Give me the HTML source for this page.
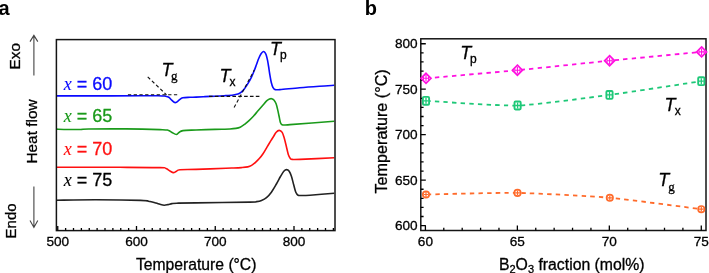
<!DOCTYPE html><html><head><meta charset="utf-8"><style>html,body{margin:0;padding:0;background:#fff;}svg{display:block;will-change:transform;color:#000;}svg{font-family:"Liberation Sans",sans-serif;}text{stroke:currentColor;stroke-width:0.3px;}</style></head><body>
<svg width="709" height="273" viewBox="0 0 709 273">
<rect width="709" height="273" fill="#fff"/>
<text x="-1.5" y="14.6" font-size="20" font-weight="bold" fill="#000" style="stroke:none">a</text>
<text x="364.7" y="14.6" font-size="20" font-weight="bold" fill="#000" style="stroke:none">b</text>
<g fill="#000" font-size="15">
<text transform="translate(19.6,69.5) rotate(-90)" font-size="15.4">Exo</text>
<text transform="translate(37.3,163.6) rotate(-90)" font-size="15.4">Heat flow</text>
<text transform="translate(15.7,238.4) rotate(-90)">Endo</text>
</g>
<g stroke="#444" stroke-width="1.1" fill="none">
<path d="M33.9,75.5 V35.6 M30,41.6 L33.9,35.4 L37.8,41.6"/>
<path d="M33.9,186.6 V227.2 M30,220.6 L33.9,227.4 L37.8,220.6"/>
</g>
<path d="M56.40,95.90 C63.67,95.90 86.07,95.92 100.00,95.90 C113.93,95.88 130.33,95.82 140.00,95.80 C149.67,95.78 154.17,95.77 158.00,95.80 C161.83,95.83 161.78,95.95 163.00,96.00 C164.22,96.05 164.33,95.90 165.30,96.10 C166.27,96.30 167.73,96.53 168.80,97.20 C169.87,97.87 170.72,99.20 171.70,100.10 C172.68,101.00 173.82,102.30 174.70,102.60 C175.58,102.90 176.23,102.37 177.00,101.90 C177.77,101.43 178.33,100.48 179.30,99.80 C180.27,99.12 181.02,98.22 182.80,97.80 C184.58,97.38 187.80,97.42 190.00,97.30 C192.20,97.18 193.50,97.22 196.00,97.10 C198.50,96.98 201.83,96.75 205.00,96.60 C208.17,96.45 211.80,96.35 215.00,96.20 C218.20,96.05 221.15,95.90 224.20,95.70 C227.25,95.50 231.02,95.28 233.30,95.00 C235.58,94.72 236.68,94.40 237.90,94.00 C239.12,93.60 239.68,93.25 240.60,92.60 C241.52,91.95 242.48,91.13 243.40,90.10 C244.32,89.07 245.18,87.77 246.10,86.40 C247.02,85.03 247.98,83.50 248.90,81.90 C249.82,80.30 250.70,78.70 251.60,76.80 C252.50,74.90 253.48,72.55 254.30,70.50 C255.12,68.45 255.77,66.50 256.50,64.50 C257.23,62.50 257.97,60.25 258.70,58.50 C259.43,56.75 260.17,55.15 260.90,54.00 C261.63,52.85 262.47,51.90 263.10,51.60 C263.73,51.30 264.18,51.65 264.70,52.20 C265.22,52.75 265.73,53.57 266.20,54.90 C266.67,56.23 267.10,58.27 267.50,60.20 C267.90,62.13 268.22,64.12 268.60,66.50 C268.98,68.88 269.35,71.83 269.80,74.50 C270.25,77.17 270.78,80.37 271.30,82.50 C271.82,84.63 272.30,86.12 272.90,87.30 C273.50,88.48 273.73,89.22 274.90,89.60 C276.07,89.98 275.78,89.92 279.90,89.60 C284.02,89.28 293.02,88.27 299.60,87.70 C306.18,87.13 313.63,86.60 319.40,86.20 C325.17,85.80 331.73,85.45 334.20,85.30" fill="none" stroke="#0a0aff" stroke-width="1.6" stroke-linejoin="round"/>
<path d="M56.40,129.10 C58.30,129.17 63.75,129.43 67.80,129.50 C71.85,129.57 77.23,129.58 80.70,129.50 C84.17,129.42 81.05,129.10 88.60,129.00 C96.15,128.90 114.10,128.80 126.00,128.90 C137.90,129.00 153.00,129.38 160.00,129.60 C167.00,129.82 166.00,129.72 168.00,130.20 C170.00,130.68 170.62,131.78 172.00,132.50 C173.38,133.22 175.13,134.50 176.30,134.50 C177.47,134.50 177.88,133.15 179.00,132.50 C180.12,131.85 180.17,131.02 183.00,130.60 C185.83,130.18 190.67,130.20 196.00,130.00 C201.33,129.80 209.33,129.57 215.00,129.40 C220.67,129.23 226.52,129.17 230.00,129.00 C233.48,128.83 234.20,128.70 235.90,128.40 C237.60,128.10 238.75,127.88 240.20,127.20 C241.65,126.52 243.13,125.40 244.60,124.30 C246.07,123.20 247.53,121.95 249.00,120.60 C250.47,119.25 251.93,117.78 253.40,116.20 C254.87,114.62 256.33,112.80 257.80,111.10 C259.27,109.40 260.73,107.70 262.20,106.00 C263.67,104.30 265.38,102.07 266.60,100.90 C267.82,99.73 268.65,99.37 269.50,99.00 C270.35,98.63 270.97,98.52 271.70,98.70 C272.43,98.88 273.17,99.25 273.90,100.10 C274.63,100.95 275.42,101.97 276.10,103.80 C276.78,105.63 277.43,108.67 278.00,111.10 C278.57,113.53 279.08,116.45 279.50,118.40 C279.92,120.35 280.08,121.75 280.50,122.80 C280.92,123.85 281.27,124.33 282.00,124.70 C282.73,125.07 283.57,125.02 284.90,125.00 C286.23,124.98 281.78,125.22 290.00,124.60 C298.22,123.98 326.83,121.85 334.20,121.30" fill="none" stroke="#1a9a1a" stroke-width="1.6" stroke-linejoin="round"/>
<path d="M56.40,167.20 C67.00,167.22 102.73,167.23 120.00,167.30 C137.27,167.37 152.33,167.40 160.00,167.60 C167.67,167.80 164.33,167.93 166.00,168.50 C167.67,169.07 168.77,170.32 170.00,171.00 C171.23,171.68 172.40,172.50 173.40,172.60 C174.40,172.70 174.90,172.07 176.00,171.60 C177.10,171.13 176.67,170.17 180.00,169.80 C183.33,169.43 188.33,169.67 196.00,169.40 C203.67,169.13 219.72,168.43 226.00,168.20 C232.28,167.97 231.13,168.10 233.70,168.00 C236.27,167.90 239.05,167.78 241.40,167.60 C243.75,167.42 246.10,167.27 247.80,166.90 C249.50,166.53 250.32,166.15 251.60,165.40 C252.88,164.65 254.22,163.53 255.50,162.40 C256.78,161.27 258.02,160.08 259.30,158.60 C260.58,157.12 261.92,155.42 263.20,153.50 C264.48,151.58 265.72,149.25 267.00,147.10 C268.28,144.95 269.82,142.37 270.90,140.60 C271.98,138.83 272.62,137.90 273.50,136.50 C274.38,135.10 275.25,133.22 276.20,132.20 C277.15,131.18 278.20,130.37 279.20,130.40 C280.20,130.43 281.35,131.08 282.20,132.40 C283.05,133.72 283.62,135.98 284.30,138.30 C284.98,140.62 285.63,143.62 286.30,146.30 C286.97,148.98 287.63,152.38 288.30,154.40 C288.97,156.42 289.63,157.57 290.30,158.40 C290.97,159.23 290.68,159.23 292.30,159.40 C293.92,159.57 293.02,159.68 300.00,159.40 C306.98,159.12 328.50,157.98 334.20,157.70" fill="none" stroke="#ff1010" stroke-width="1.6" stroke-linejoin="round"/>
<path d="M56.40,200.20 C63.05,200.13 82.27,199.77 96.30,199.80 C110.33,199.83 131.65,200.12 140.60,200.40 C149.55,200.68 147.43,201.07 150.00,201.50 C152.57,201.93 154.33,202.53 156.00,203.00 C157.67,203.47 158.63,203.93 160.00,204.30 C161.37,204.67 162.87,205.15 164.20,205.20 C165.53,205.25 166.70,204.87 168.00,204.60 C169.30,204.33 170.52,203.83 172.00,203.60 C173.48,203.37 172.90,203.32 176.90,203.20 C180.90,203.08 183.82,203.08 196.00,202.90 C208.18,202.72 239.90,202.32 250.00,202.10 C260.10,201.88 254.68,201.88 256.60,201.60 C258.52,201.32 259.85,201.07 261.50,200.40 C263.15,199.73 264.85,198.97 266.50,197.60 C268.15,196.23 269.75,194.47 271.40,192.20 C273.05,189.93 274.88,186.62 276.40,184.00 C277.92,181.38 279.27,178.62 280.50,176.50 C281.73,174.38 282.78,172.45 283.80,171.30 C284.82,170.15 285.70,169.60 286.60,169.60 C287.50,169.60 288.38,170.15 289.20,171.30 C290.02,172.45 290.75,174.25 291.50,176.50 C292.25,178.75 292.98,182.18 293.70,184.80 C294.42,187.42 295.07,190.47 295.80,192.20 C296.53,193.93 297.22,194.65 298.10,195.20 C298.98,195.75 299.12,195.50 301.10,195.50 C303.08,195.50 304.48,195.58 310.00,195.20 C315.52,194.82 330.17,193.53 334.20,193.20" fill="none" stroke="#222" stroke-width="1.6" stroke-linejoin="round"/>
<g stroke="#111" stroke-width="1.1" fill="none" stroke-dasharray="3.4,2.4">
<path d="M127.9,94.7 H178.3" stroke-dasharray="3.3,2.45"/>
<path d="M147.7,76.9 L166.5,94.8"/>
<path d="M209,96.4 H259.8" stroke-dasharray="3.6,2.25"/>
<path d="M234.1,107.6 L254.3,70.0"/>
</g>
<rect x="56.4" y="39.6" width="278.6" height="191.0" fill="none" stroke="#141414" stroke-width="1.5"/>
<path d="M57.75,230.6 V225.90 M65.62,230.6 V227.90 M73.50,230.6 V227.90 M81.38,230.6 V227.90 M89.25,230.6 V227.90 M97.12,230.6 V227.90 M105.00,230.6 V227.90 M112.88,230.6 V227.90 M120.75,230.6 V227.90 M128.62,230.6 V227.90 M136.50,230.6 V225.90 M144.38,230.6 V227.90 M152.25,230.6 V227.90 M160.12,230.6 V227.90 M168.00,230.6 V227.90 M175.88,230.6 V227.90 M183.75,230.6 V227.90 M191.62,230.6 V227.90 M199.50,230.6 V227.90 M207.38,230.6 V227.90 M215.25,230.6 V225.90 M223.12,230.6 V227.90 M231.00,230.6 V227.90 M238.88,230.6 V227.90 M246.75,230.6 V227.90 M254.62,230.6 V227.90 M262.50,230.6 V227.90 M270.38,230.6 V227.90 M278.25,230.6 V227.90 M286.12,230.6 V227.90 M294.00,230.6 V225.90 M301.88,230.6 V227.90 M309.75,230.6 V227.90 M317.62,230.6 V227.90 M325.50,230.6 V227.90 M333.38,230.6 V227.90" stroke="#000" stroke-width="1.3" fill="none"/>
<g font-size="13.6" text-anchor="middle" fill="#000">
<text x="57.75" y="246.3">500</text>
<text x="136.50" y="246.3">600</text>
<text x="215.25" y="246.3">700</text>
<text x="294.00" y="246.3">800</text>
</g>
<text x="196.2" y="270" font-size="15.7" text-anchor="middle" fill="#000">Temperature (°C)</text>
<text x="63.8" y="89.6" font-size="18" fill="#0a0aff" color="#0a0aff"><tspan font-family="Liberation Serif" font-style="italic" style="stroke-width:0.1px">x</tspan> = 60</text>
<text x="63.8" y="121.6" font-size="18" fill="#1a9a1a" color="#1a9a1a"><tspan font-family="Liberation Serif" font-style="italic" style="stroke-width:0.1px">x</tspan> = 65</text>
<text x="63.8" y="154.6" font-size="18" fill="#ff1010" color="#ff1010"><tspan font-family="Liberation Serif" font-style="italic" style="stroke-width:0.1px">x</tspan> = 70</text>
<text x="63.8" y="186.2" font-size="18" fill="#000" color="#000"><tspan font-family="Liberation Serif" font-style="italic" style="stroke-width:0.1px">x</tspan> = 75</text>
<text x="161.6" y="76.0" font-size="18" font-style="italic" fill="#000">T</text><text x="170.9" y="79.9" font-size="13" font-family="Liberation Serif" fill="#000">g</text>
<text x="219.4" y="81.5" font-size="18" font-style="italic" fill="#000">T</text><text x="229.6" y="86.0" font-size="12" fill="#000">x</text>
<text x="270.1" y="54.5" font-size="18" font-style="italic" fill="#000">T</text><text x="280.0" y="58.5" font-size="12" fill="#000">p</text>
<rect x="420.8" y="38.8" width="285.20" height="191.70" fill="none" stroke="#141414" stroke-width="1.5"/>
<path d="M420.8,225.60 H425.80 M420.8,216.51 H423.60 M420.8,207.41 H423.60 M420.8,198.32 H423.60 M420.8,189.23 H423.60 M420.8,180.14 H425.80 M420.8,171.05 H423.60 M420.8,161.95 H423.60 M420.8,152.86 H423.60 M420.8,143.77 H423.60 M420.8,134.68 H425.80 M420.8,125.58 H423.60 M420.8,116.49 H423.60 M420.8,107.40 H423.60 M420.8,98.31 H423.60 M420.8,89.21 H425.80 M420.8,80.12 H423.60 M420.8,71.03 H423.60 M420.8,61.94 H423.60 M420.8,52.84 H423.60 M420.8,43.75 H425.80 M425.40,230.5 V225.50 M443.79,230.5 V227.70 M462.19,230.5 V227.70 M480.58,230.5 V227.70 M498.97,230.5 V227.70 M517.37,230.5 V225.50 M535.76,230.5 V227.70 M554.15,230.5 V227.70 M572.54,230.5 V227.70 M590.94,230.5 V227.70 M609.33,230.5 V225.50 M627.72,230.5 V227.70 M646.12,230.5 V227.70 M664.51,230.5 V227.70 M682.90,230.5 V227.70 M701.29,230.5 V225.50" stroke="#000" stroke-width="1.3" fill="none"/>
<g font-size="13.6" fill="#000">
<text x="417.6" y="230.20" text-anchor="end">600</text>
<text x="417.6" y="184.74" text-anchor="end">650</text>
<text x="417.6" y="139.28" text-anchor="end">700</text>
<text x="417.6" y="93.81" text-anchor="end">750</text>
<text x="417.6" y="48.35" text-anchor="end">800</text>
<text x="425.40" y="246.3" text-anchor="middle">60</text>
<text x="517.37" y="246.3" text-anchor="middle">65</text>
<text x="609.33" y="246.3" text-anchor="middle">70</text>
<text x="701.29" y="246.3" text-anchor="middle">75</text>
</g>
<text x="571.8" y="270" font-size="15.8" text-anchor="middle" fill="#000">B<tspan font-size="11" dy="3.4">2</tspan><tspan dy="-3.4">O</tspan><tspan font-size="11" dy="3.4">3</tspan><tspan dy="-3.4"> fraction (mol%)</tspan></text>
<text transform="translate(386.8,131.4) rotate(-90)" font-size="16.2" text-anchor="middle" fill="#000">Temperature (°C)</text>
<path id="sp" d="M426.00,78.30 C435.14,77.49 499.04,71.96 517.40,70.20 C535.76,68.44 591.18,62.53 609.60,60.70 C628.02,58.87 692.40,52.78 701.60,51.90" fill="none" stroke="#ff10e0" stroke-width="1.8" stroke-dasharray="4.4,4.2" stroke-dashoffset="8.2"/>
<path id="sx" d="M426.00,100.80 C435.16,101.27 499.25,106.09 517.60,105.50 C535.95,104.91 591.13,97.33 609.50,94.90 C627.87,92.47 692.12,82.57 701.30,81.20" fill="none" stroke="#1ec878" stroke-width="1.8" stroke-dasharray="4.4,4.2" stroke-dashoffset="8.2"/>
<path id="sg" d="M426.00,194.50 C435.15,194.34 499.12,192.57 517.50,192.90 C535.88,193.23 591.42,196.17 609.80,197.80 C628.18,199.43 692.15,208.06 701.30,209.20" fill="none" stroke="#ff6b2b" stroke-width="1.8" stroke-dasharray="4.4,4.2" stroke-dashoffset="7.75"/>
<path d="M426.0,73.3 L431.0,78.3 L426.0,83.3 L421.0,78.3 Z" fill="#fff" stroke="#ff10e0" stroke-width="1.7"/><path d="M423.0,78.3 H429.0 M426.0,75.0 V81.6 M423.4,76.7 V79.89999999999999 M428.6,76.7 V79.89999999999999" stroke="#ff10e0" stroke-width="1.1" fill="none"/>
<path d="M517.4,65.2 L522.4,70.2 L517.4,75.2 L512.4,70.2 Z" fill="#fff" stroke="#ff10e0" stroke-width="1.7"/><path d="M514.4,70.2 H520.4 M517.4,66.9 V73.5 M514.8,68.60000000000001 V71.8 M520.0,68.60000000000001 V71.8" stroke="#ff10e0" stroke-width="1.1" fill="none"/>
<path d="M609.6,55.7 L614.6,60.7 L609.6,65.7 L604.6,60.7 Z" fill="#fff" stroke="#ff10e0" stroke-width="1.7"/><path d="M606.6,60.7 H612.6 M609.6,57.400000000000006 V64.0 M607.0,59.1 V62.300000000000004 M612.2,59.1 V62.300000000000004" stroke="#ff10e0" stroke-width="1.1" fill="none"/>
<path d="M701.6,46.9 L706.6,51.9 L701.6,56.9 L696.6,51.9 Z" fill="#fff" stroke="#ff10e0" stroke-width="1.7"/><path d="M698.6,51.9 H704.6 M701.6,48.6 V55.199999999999996 M699.0,50.3 V53.5 M704.2,50.3 V53.5" stroke="#ff10e0" stroke-width="1.1" fill="none"/>
<rect x="422.9" y="96.85" width="6.2" height="7.9" rx="1.1" fill="#fff" stroke="#1ec878" stroke-width="1.9"/><path d="M426.0,97.8 V103.8 M423.5,100.8 H428.5" stroke="#1ec878" stroke-width="1.3" fill="none"/>
<rect x="514.5" y="101.55" width="6.2" height="7.9" rx="1.1" fill="#fff" stroke="#1ec878" stroke-width="1.9"/><path d="M517.6,102.5 V108.5 M515.1,105.5 H520.1" stroke="#1ec878" stroke-width="1.3" fill="none"/>
<rect x="606.4" y="90.95" width="6.2" height="7.9" rx="1.1" fill="#fff" stroke="#1ec878" stroke-width="1.9"/><path d="M609.5,91.9 V97.9 M607.0,94.9 H612.0" stroke="#1ec878" stroke-width="1.3" fill="none"/>
<rect x="698.1999999999999" y="77.25" width="6.2" height="7.9" rx="1.1" fill="#fff" stroke="#1ec878" stroke-width="1.9"/><path d="M701.3,78.2 V84.2 M698.8,81.2 H703.8" stroke="#1ec878" stroke-width="1.3" fill="none"/>
<circle cx="426.0" cy="194.5" r="3.2" fill="#fff" stroke="#ff6b2b" stroke-width="1.7"/><path d="M426.0,192.1 V196.9 M423.6,194.5 H428.4" stroke="#ff6b2b" stroke-width="1.2" fill="none"/>
<circle cx="517.5" cy="192.9" r="3.2" fill="#fff" stroke="#ff6b2b" stroke-width="1.7"/><path d="M517.5,190.5 V195.3 M515.1,192.9 H519.9" stroke="#ff6b2b" stroke-width="1.2" fill="none"/>
<circle cx="609.8" cy="197.8" r="3.2" fill="#fff" stroke="#ff6b2b" stroke-width="1.7"/><path d="M609.8,195.4 V200.20000000000002 M607.4,197.8 H612.1999999999999" stroke="#ff6b2b" stroke-width="1.2" fill="none"/>
<circle cx="701.3" cy="209.2" r="3.2" fill="#fff" stroke="#ff6b2b" stroke-width="1.7"/><path d="M701.3,206.79999999999998 V211.6 M698.9,209.2 H703.6999999999999" stroke="#ff6b2b" stroke-width="1.2" fill="none"/>
<text x="460.2" y="58.6" font-size="18" font-style="italic" fill="#000">T</text><text x="470.0" y="62.8" font-size="12" fill="#000">p</text>
<text x="664.4" y="110.6" font-size="18" font-style="italic" fill="#000">T</text><text x="674.7" y="115.3" font-size="12" fill="#000">x</text>
<text x="658.2" y="186.0" font-size="18" font-style="italic" fill="#000">T</text><text x="668.2" y="190.5" font-size="13" font-family="Liberation Serif" fill="#000">g</text>
</svg></body></html>
